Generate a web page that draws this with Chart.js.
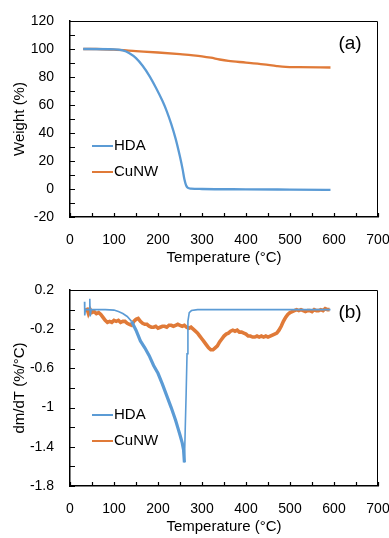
<!DOCTYPE html>
<html>
<head>
<meta charset="utf-8">
<script src="https://cdn.jsdelivr.net/npm/chart.js@4"></script>
<style>
  body { margin: 0; background: #fff; }
  canvas { display: block; }
</style>
</head>
<body>
<canvas id="chartA" width="389" height="269"></canvas>
<canvas id="chartB" width="389" height="269"></canvas>
<script>
// (a) weight loss curves
const tempHDA_a = [30, 100, 120, 135, 150, 165, 180, 195, 210, 220, 230, 240, 250, 256, 260, 264, 268, 275, 300, 400, 500, 592];
const weightHDA = [100, 99.8, 99, 97, 93.5, 88, 81, 72.5, 63, 55.5, 46.5, 36, 23, 14, 7, 2.5, 0.8, 0.3, 0, -0.2, -0.4, -0.6];
const tempCuNW_a = [30, 60, 100, 150, 200, 250, 280, 300, 320, 340, 360, 400, 440, 470, 490, 520, 592];
const weightCuNW = [100, 100, 99.5, 98.5, 97.5, 96.3, 95.5, 94.8, 93.8, 92.5, 91.5, 90.3, 89, 87.8, 87.2, 87, 86.8];

// (b) derivative curves
const tempHDA_b = [33, 33.5, 35, 44, 45, 46, 48, 60, 80, 100, 110, 120, 130, 140, 150, 160, 170, 180, 190, 200, 210, 220, 230, 240, 246, 250, 255, 258, 260, 262, 264, 266, 268, 271, 276, 290, 400, 500, 592];
const dmdtHDA = [0.08, -0.06, 0.0, 0.0, 0.11, -0.07, 0.0, 0.0, 0.0, -0.005, -0.02, -0.04, -0.07, -0.12, -0.21, -0.32, -0.39, -0.47, -0.57, -0.65, -0.76, -0.88, -1.0, -1.13, -1.22, -1.28, -1.36, -1.43, -1.56, -1.2, -0.85, -0.45, -0.12, -0.03, -0.01, 0.0, 0.0, 0.0, 0.0];
const tempCuNW_b = [38, 42, 46, 50, 55, 60, 65, 70, 75, 80, 85, 90, 95, 100, 105, 110, 115, 120, 125, 130, 135, 140, 145, 150, 155, 160, 165, 170, 175, 180, 185, 190, 195, 200, 205, 210, 215, 220, 225, 230, 235, 240, 245, 250, 255, 260, 265, 270, 275, 280, 285, 290, 295, 300, 305, 310, 315, 320, 325, 330, 335, 340, 345, 350, 355, 360, 365, 370, 375, 380, 385, 390, 395, 400, 405, 410, 415, 420, 425, 430, 435, 440, 445, 450, 455, 460, 465, 470, 475, 480, 485, 490, 495, 500, 505, 510, 515, 520, 525, 530, 535, 540, 545, 550, 555, 560, 565, 570, 575, 580, 585, 590];
const dmdtCuNW = [0.02, -0.04, 0.0, -0.03, -0.02, -0.04, -0.03, -0.05, -0.08, -0.11, -0.13, -0.12, -0.13, -0.11, -0.12, -0.11, -0.13, -0.12, -0.12, -0.14, -0.15, -0.16, -0.12, -0.10, -0.09, -0.12, -0.14, -0.15, -0.15, -0.17, -0.18, -0.18, -0.17, -0.19, -0.18, -0.17, -0.17, -0.18, -0.16, -0.16, -0.17, -0.16, -0.15, -0.16, -0.17, -0.16, -0.18, -0.19, -0.18, -0.20, -0.22, -0.24, -0.27, -0.30, -0.33, -0.36, -0.39, -0.41, -0.41, -0.39, -0.37, -0.33, -0.30, -0.27, -0.25, -0.24, -0.22, -0.21, -0.22, -0.21, -0.23, -0.23, -0.24, -0.25, -0.27, -0.27, -0.28, -0.28, -0.27, -0.28, -0.27, -0.28, -0.27, -0.28, -0.27, -0.26, -0.25, -0.24, -0.21, -0.17, -0.12, -0.08, -0.05, -0.03, -0.02, -0.01, 0.0, -0.01, 0.0, -0.01, -0.02, -0.01, -0.01, -0.02, 0.0, -0.01, -0.01, 0.0, -0.01, 0.01, 0.0, 0.0];

const xTickLabels = [0, 100, 200, 300, 400, 500, 600, 700];
const seriesNames = ['HDA', 'CuNW'];
const blue = '#5b9bd5';
const orange = '#e07a38';
const fontFamily = '"Liberation Sans", Arial, sans-serif';

function toPoints(xs, ys) {
  return xs.map((x, i) => ({ x: x, y: ys[i] }));
}

// excel-like frame: inside ticks, top/right border, inline legend, panel letter
function framePlugin(letter, yStep) {
  return {
    id: 'frame' + letter,
    afterDraw(chart) {
      const ctx = chart.ctx;
      const area = chart.chartArea;
      const xs = chart.scales.x;
      const ys = chart.scales.y;
      ctx.save();
      ctx.strokeStyle = '#000';
      ctx.lineWidth = 1;
      ctx.beginPath();
      ctx.moveTo(area.left, area.top + 0.5);
      ctx.lineTo(area.right - 0.5, area.top + 0.5);
      ctx.lineTo(area.right - 0.5, area.bottom);
      ctx.stroke();

      ctx.lineWidth = 1.2;
      ctx.beginPath();
      for (let v = xs.min; v <= xs.max; v += 50) {
        const px = Math.round(xs.getPixelForValue(v)) + 0.5;
        ctx.moveTo(px, area.bottom);
        ctx.lineTo(px, area.bottom - 4);
      }
      const n = Math.round((ys.max - ys.min) / (yStep / 2));
      for (let i = 0; i <= n; i++) {
        const py = Math.round(ys.getPixelForValue(ys.min + i * yStep / 2)) + 0.5;
        ctx.moveTo(area.left, py);
        ctx.lineTo(area.left + 5, py);
      }
      ctx.stroke();

      // legend
      ctx.font = '15px ' + fontFamily;
      ctx.textBaseline = 'middle';
      ctx.textAlign = 'left';
      chart.data.datasets.forEach((ds, i) => {
        const y = area.top + 125 + i * 26;
        ctx.strokeStyle = ds.borderColor;
        ctx.lineWidth = 2;
        ctx.beginPath();
        ctx.moveTo(area.left + 22, y);
        ctx.lineTo(area.left + 43, y);
        ctx.stroke();
        ctx.fillStyle = '#000';
        ctx.fillText(ds.label, area.left + 44, y);
      });

      ctx.font = '19px ' + fontFamily;
      ctx.textAlign = 'center';
      ctx.fillText('(' + letter + ')', area.right - 28, area.top + 23);
      ctx.restore();
    }
  };
}

function makeOptions(yTitle, yMin, yMax, yStep, fmt) {
  return {
    responsive: false,
    animation: false,
    devicePixelRatio: 1,
    layout: { padding: { top: 21, right: 11, left: 0, bottom: 0 } },
    plugins: { legend: { display: false }, tooltip: { enabled: false } },
    elements: { point: { radius: 0 } },
    scales: {
      x: {
        type: 'linear',
        min: 0,
        max: 700,
        afterFit: (s) => { s.height = 52; s.paddingLeft = 0; s.paddingRight = 0; },
        afterBuildTicks: (s) => { s.ticks = xTickLabels.map(v => ({ value: v })); },
        ticks: { color: '#000', font: { size: 14, family: fontFamily }, padding: 7, maxRotation: 0 },
        grid: { display: false },
        border: { display: true, color: '#000', width: 1.5 },
        title: { display: true, text: 'Temperature (°C)', color: '#000', font: { size: 15, family: fontFamily }, padding: { top: 0, bottom: 2 } }
      },
      y: {
        min: yMin,
        max: yMax,
        afterFit: (s) => { s.width = 70; },
        ticks: { stepSize: yStep, color: '#000', font: { size: 14, family: fontFamily }, padding: 8, callback: fmt },
        grid: { display: false },
        border: { display: true, color: '#000', width: 1.5 },
        title: { display: true, text: yTitle, color: '#000', font: { size: 15, family: fontFamily }, padding: { top: 11, bottom: 0 } }
      }
    }
  };
}

new Chart(document.getElementById('chartA'), {
  type: 'line',
  data: {
    datasets: [
      { label: seriesNames[0], data: toPoints(tempHDA_a, weightHDA), borderColor: blue, borderWidth: 2.3, cubicInterpolationMode: 'monotone' },
      { label: seriesNames[1], data: toPoints(tempCuNW_a, weightCuNW), borderColor: orange, borderWidth: 2.3, cubicInterpolationMode: 'monotone' }
    ]
  },
  options: makeOptions('Weight (%)', -20, 120, 20, (v) => String(Math.round(v))),
  plugins: [framePlugin('a', 20)]
});

new Chart(document.getElementById('chartB'), {
  type: 'line',
  data: {
    datasets: [
      {
        label: seriesNames[0], data: toPoints(tempHDA_b, dmdtHDA), borderColor: blue, borderWidth: 1.6,
        segment: { borderWidth: (c) => (c.p0.parsed.x >= 140 && c.p1.parsed.x <= 260 ? 3.2 : 1.6) }
      },
      { label: seriesNames[1], data: toPoints(tempCuNW_b, dmdtCuNW), borderColor: orange, borderWidth: 3.6 }
    ]
  },
  options: makeOptions('dm/dT (%/°C)', -1.8, 0.2, 0.4, (v) => String(Math.round(v * 10) / 10)),
  plugins: [framePlugin('b', 0.4)]
});
</script>
</body>
</html>
